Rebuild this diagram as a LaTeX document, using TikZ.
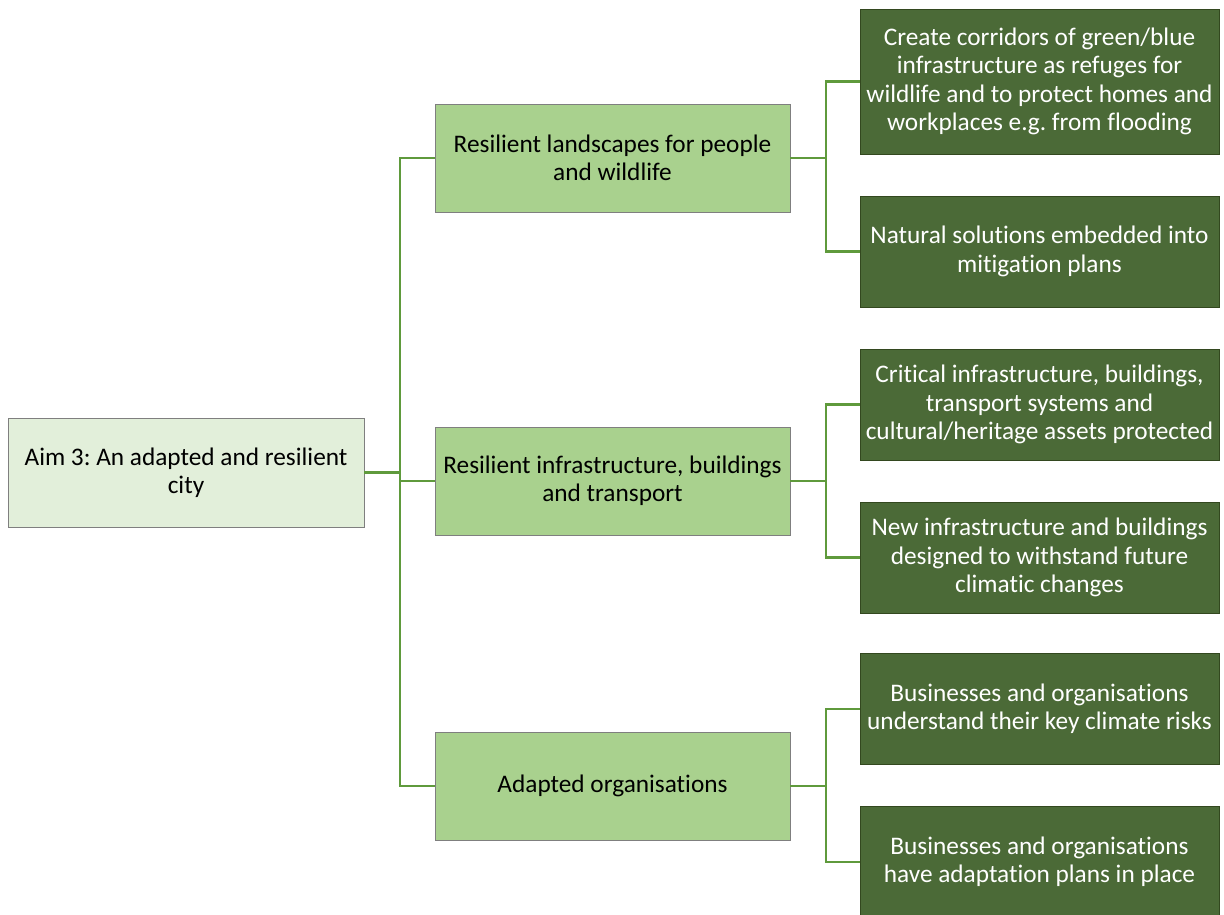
\documentclass[tikz,border=0pt]{standalone}
\usepackage{fontspec}
\setmainfont{Carlito}[Ligatures=NoCommon]
\frenchspacing
\definecolor{rootfill}{HTML}{E2EFDA}
\definecolor{midfill}{HTML}{A9D18E}
\definecolor{darkfill}{HTML}{4B6A37}
\definecolor{darkedge}{HTML}{33481F}
\definecolor{grayedge}{HTML}{7F7F7F}
\definecolor{linegreen}{HTML}{5F9A3C}
\begin{document}
\begin{tikzpicture}[x=1pt,y=-1pt,
  base/.style={rectangle, align=center, inner sep=2pt, font=\fontsize{25.3}{28.3}\selectfont},
  rootbox/.style={base, fill=rootfill, draw=grayedge, line width=0.8pt, minimum width=356pt, minimum height=109pt},
  midbox/.style={base, fill=midfill, draw=grayedge, line width=0.8pt, minimum width=355pt, minimum height=108pt},
  leafbox/.style={base, fill=darkfill, draw=darkedge, line width=0.8pt, text=white, minimum width=359pt, minimum height=111pt},
  conn/.style={draw=linegreen, line width=2.8pt}]
\useasboundingbox (0,0) rectangle (1224,915);
\fill[white] (0,0) rectangle (1224,915);
\node[rootbox] (root) at (186,472.5) {Aim 3: An adapted and resilient\\city};
\node[midbox] (m1) at (612.5,158) {Resilient landscapes for people\\and wildlife};
\node[midbox] (m2) at (612.5,481) {Resilient infrastructure, buildings\\and transport};
\node[midbox] (m3) at (612.5,786) {Adapted organisations};
\node[leafbox, minimum height=145pt] (r1) at (1039.5,81.5) {Create corridors of green/blue\\infrastructure as refuges for\\wildlife and to protect homes and\\workplaces e.g. from flooding};
\node[leafbox] (r2) at (1039.5,251.5) {Natural solutions embedded into\\mitigation plans};
\node[leafbox] (r3) at (1039.5,404.5) {Critical infrastructure, buildings,\\transport systems and\\cultural/heritage assets protected};
\node[leafbox] (r4) at (1039.5,557.5) {New infrastructure and buildings\\designed to withstand future\\climatic changes};
\node[leafbox] (r5) at (1039.5,709) {Businesses and organisations\\understand their key climate risks};
\node[leafbox] (r6) at (1039.5,862) {Businesses and organisations\\have adaptation plans in place};
\coordinate (t1) at (400,0);
\coordinate (t2) at (826,0);
\draw[conn] (root.east) -- (root.east -| t1);
\draw[conn] (m1.west) -- (m1.west -| t1) -- (m3.west -| t1) -- (m3.west);
\draw[conn] (m2.west) -- (m2.west -| t1);
\draw[conn] (m1.east) -- (m1.east -| t2);
\draw[conn] (r1.west) -- (r1.west -| t2) -- (r2.west -| t2) -- (r2.west);
\draw[conn] (m2.east) -- (m2.east -| t2);
\draw[conn] (r3.west) -- (r3.west -| t2) -- (r4.west -| t2) -- (r4.west);
\draw[conn] (m3.east) -- (m3.east -| t2);
\draw[conn] (r5.west) -- (r5.west -| t2) -- (r6.west -| t2) -- (r6.west);
\end{tikzpicture}
\end{document}
